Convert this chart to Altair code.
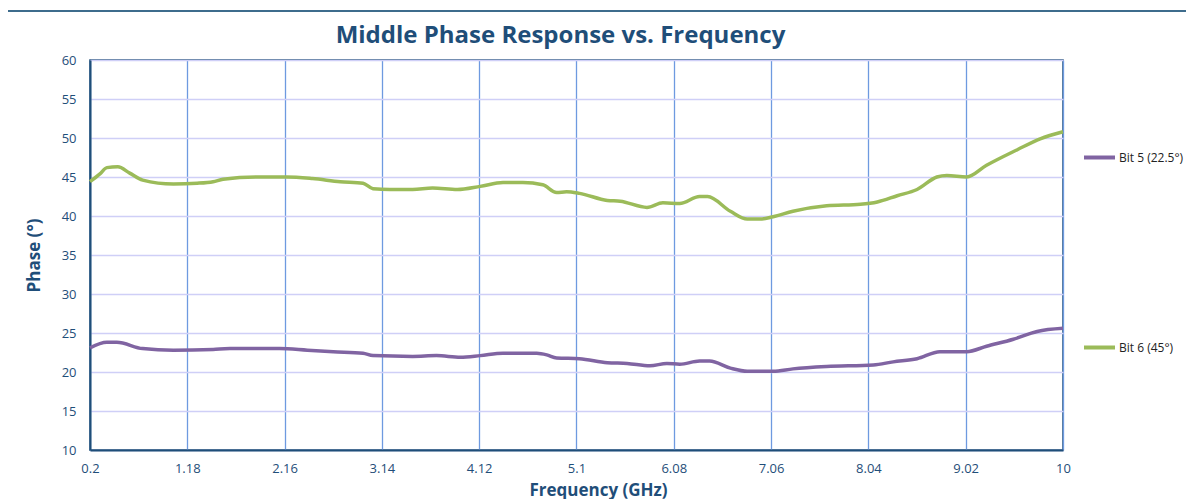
import altair as alt
import pandas as pd

# Bit 6 (45°)
f6 = [0.20, 0.30, 0.37, 0.48, 0.60, 0.73, 1.04, 1.28, 1.44, 1.54, 1.88, 2.18, 2.44, 2.72, 2.95,
      3.05, 3.22, 3.45, 3.65, 3.90, 4.13, 4.36, 4.56, 4.76, 4.90, 5.00, 5.13, 5.41, 5.54, 5.81,
      5.97, 6.14, 6.34, 6.42, 6.65, 6.82, 6.95, 7.08, 7.28, 7.62, 7.96, 8.13, 8.33, 8.53, 8.73,
      8.83, 9.03, 9.23, 9.54, 9.77, 10.00]
v6 = [44.4, 45.4, 46.2, 46.3, 45.5, 44.6, 44.1, 44.2, 44.4, 44.7, 45.0, 45.0, 44.8, 44.4, 44.2,
      43.5, 43.4, 43.4, 43.6, 43.4, 43.8, 44.3, 44.3, 44.0, 43.0, 43.1, 42.9, 42.0, 41.9, 41.1,
      41.7, 41.6, 42.5, 42.5, 40.6, 39.6, 39.6, 39.9, 40.6, 41.3, 41.5, 41.8, 42.6, 43.4, 45.0,
      45.2, 45.0, 46.5, 48.5, 49.9, 50.8]

# Bit 5 (22.5°)
f5 = [0.20, 0.37, 0.47, 0.73, 1.04, 1.44, 1.61, 2.11, 2.39, 2.65, 2.95, 3.05, 3.45, 3.69, 3.93,
      4.13, 4.36, 4.70, 4.80, 4.90, 5.13, 5.41, 5.61, 5.84, 6.01, 6.14, 6.34, 6.44, 6.65, 6.82,
      7.08, 7.28, 7.62, 8.09, 8.29, 8.53, 8.76, 9.03, 9.23, 9.50, 9.74, 10.00]
v5 = [23.1, 23.8, 23.8, 23.0, 22.8, 22.9, 23.0, 23.0, 22.8, 22.6, 22.4, 22.1, 22.0, 22.1, 21.9,
      22.1, 22.4, 22.4, 22.2, 21.8, 21.7, 21.2, 21.1, 20.8, 21.1, 21.0, 21.4, 21.4, 20.5, 20.1,
      20.1, 20.4, 20.7, 20.9, 21.3, 21.7, 22.6, 22.6, 23.3, 24.2, 25.2, 25.6]

x_ticks = [0.2, 1.18, 2.16, 3.14, 4.12, 5.1, 6.08, 7.06, 8.04, 9.02, 10]
y_ticks = [10, 15, 20, 25, 30, 35, 40, 45, 50, 55, 60]
series = ["Bit 5 (22.5°)", "Bit 6 (45°)"]
colors = ["#8064a2", "#9bbb59"]

df = pd.concat([
    pd.DataFrame({"f": f5, "v": v5, "s": series[0], "o": range(len(f5))}),
    pd.DataFrame({"f": f6, "v": v6, "s": series[1], "o": range(len(f6))}),
])

NAVY = "#1f4e79"
FONT = "Open Sans"

lines = alt.Chart(df).mark_line(strokeWidth=3.5, interpolate="monotone").encode(
    x=alt.X("f:Q", scale=alt.Scale(domain=[0.2, 10], nice=False, zero=False),
            axis=alt.Axis(values=x_ticks, title="Frequency (GHz)", labelExpr="datum.value",
                          gridColor="#6e9ae0", gridWidth=1.3, ticks=False, labelPadding=12,
                          domainColor=NAVY, domainWidth=2, titleX=508, titlePadding=7,
                          labelFlush=False)),
    y=alt.Y("v:Q", scale=alt.Scale(domain=[10, 60], nice=False, zero=False),
            axis=alt.Axis(values=y_ticks, title="Phase (°)", gridColor="#cfcff7", gridWidth=1.5,
                          ticks=False, labelPadding=14, domainColor=NAVY, domainWidth=2,
                          titlePadding=18)),
    color=alt.Color("s:N", scale=alt.Scale(domain=series, range=colors),
                    legend=alt.Legend(title=None, orient="none", legendX=992, legendY=80,
                                      symbolType="stroke", symbolStrokeWidth=4, symbolSize=961,
                                      rowPadding=164, labelOffset=2, padding=0,
                                      labelFontSize=12, labelFont=FONT, labelColor="#222222")),
    order="o:Q",
)

frame_v = alt.Chart(df).mark_rule(color="#3f6c8c", strokeWidth=1).encode(
    x=alt.value(-84), y=alt.value(-49), y2=alt.value(460))
frame_h = alt.Chart(df).mark_rule(color="#3f6c8c", strokeWidth=1).encode(
    x=alt.value(-84), x2=alt.value(1120), y=alt.value(-49))

chart = alt.layer(frame_v, frame_h, lines).properties(
    width=973, height=390,
    title=alt.TitleParams("Middle Phase Response vs. Frequency", fontSize=24, font=FONT,
                          fontWeight="bold", color=NAVY, anchor="middle", dx=-16, offset=-37,
                          frame="group"),
    autosize=alt.AutoSizeParams(type="none"),
    padding={"left": 82, "top": 52, "right": 123, "bottom": 49},
).configure_view(stroke=NAVY, strokeWidth=1.5).configure_axis(
    labelFont=FONT, labelFontSize=13, labelColor=NAVY,
    titleFont=FONT, titleFontSize=17, titleColor=NAVY, titleFontWeight="bold",
)

chart.save("out.html", embed_options={"renderer": "svg", "actions": False})
